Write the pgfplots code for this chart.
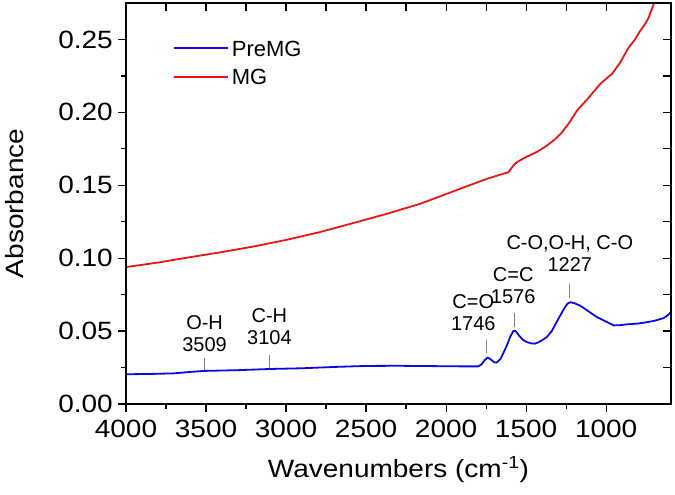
\documentclass[border=0pt]{standalone}
\usepackage{fontspec}
\setmainfont{Liberation Sans}
\newfontfamily\widefont[FakeStretch=1.12]{Liberation Sans}
\usepackage{pgfplots}
\pgfplotsset{compat=1.18}
\pgfplotstableread{
w a
4000 0.0204
3850 0.0206
3700 0.0210
3600 0.0220
3509 0.0227
3300 0.0232
3104 0.0240
2900 0.0245
2700 0.0254
2500 0.0261
2300 0.0262
2100 0.0260
1900 0.0258
1800 0.0258
1780 0.0270
1760 0.0300
1740 0.0318
1720 0.0305
1700 0.0286
1683 0.0284
1660 0.0310
1640 0.0355
1621 0.0400
1600 0.0460
1580 0.0500
1565 0.0500
1545 0.0470
1520 0.0440
1496 0.0425
1470 0.0416
1444 0.0414
1420 0.0425
1390 0.0445
1371 0.0459
1340 0.0500
1298 0.0585
1260 0.0660
1240 0.0690
1225 0.0698
1200 0.0692
1163 0.0675
1110 0.0635
1058 0.0596
1000 0.0565
954 0.0539
920 0.0540
871 0.0546
800 0.0552
746 0.0561
700 0.0570
642 0.0589
620 0.0605
595 0.0632
}\premg
\pgfplotstableread{
w a
4000 0.0939
3800 0.0970
3621 0.1003
3400 0.1042
3204 0.1080
3000 0.1125
2788 0.1179
2600 0.1235
2371 0.1304
2162 0.1373
1954 0.1459
1746 0.1544
1640 0.1580
1611 0.1589
1590 0.1620
1570 0.1648
1540 0.1670
1496 0.1696
1430 0.1730
1371 0.1772
1320 0.1815
1277 0.1862
1230 0.1930
1183 0.2011
1110 0.2100
1038 0.2194
990 0.2240
965 0.2262
940 0.2300
913 0.2341
860 0.2444
820 0.2500
788 0.2558
760 0.2600
735 0.2649
704 0.2740
695 0.2780
}\mg
\begin{document}
\begin{tikzpicture}
\pgfplotsset{
  common/.style={
    at={(0,0)}, anchor=south west,
    scale only axis, width=545pt, height=401pt,
    x dir=reverse, xmin=595, xmax=4000, ymin=0, ymax=0.275,
    xtick={1000,1500,2000,2500,3000,3500,4000},
    ytick={0,0.05,0.1,0.15,0.2,0.25},
    minor x tick num=1, minor y tick num=1,
    axis line style={line width=1.4pt, black},
    every tick/.style={black, line width=1.2pt},
  }
}
\begin{axis}[common,
  xtick pos=bottom, ytick pos=left, tick align=outside,
  major tick length=8pt, minor tick length=5pt,
  /pgf/number format/assume math mode=true,
  tick label style={font=\widefont\fontsize{25}{30}\selectfont},
  x tick label style={inner sep=8pt, /pgf/number format/1000 sep={}},
  y tick label style={inner sep=5pt, /pgf/number format/fixed, /pgf/number format/fixed zerofill, /pgf/number format/precision=2},
  xlabel={Wavenumbers (cm\textsuperscript{-1})},
  ylabel={Absorbance},
  label style={font=\widefont\fontsize{25}{30}\selectfont},
  xlabel style={at={(axis description cs:0.5,-0.1646)}, anchor=center},
  ylabel style={at={(axis description cs:-0.2046,0.5)}, anchor=center},
  legend style={at={(0.086,0.915)}, anchor=north west, draw=none, fill=none,
    inner sep=0pt, row sep=6.5pt, font=\fontsize{22}{26}\selectfont,
    nodes={inner sep=3pt, text height=16pt, text depth=0pt}},
  legend cell align=left,
  legend image code/.code={\draw[#1] (0pt,0pt) -- (54pt,0pt);},
]
\addplot[color={rgb,255:red,10;green,10;blue,230}, line width=1.8pt] table[x=w,y=a] {\premg};
\addlegendentry{PreMG}
\addplot[color={rgb,255:red,235;green,20;blue,20}, line width=1.8pt] table[x=w,y=a] {\mg};
\addlegendentry{MG}
\begin{scope}[every node/.style={align=center, inner sep=0pt, anchor=south, font=\fontsize{20}{22}\selectfont}]
\draw[gray, line width=0.9pt] (axis cs:3509,0.0233) -- (axis cs:3509,0.0315);
\node at (axis cs:3509,0.0356) {O-H\\3509};
\draw[gray, line width=0.9pt] (axis cs:3104,0.0246) -- (axis cs:3104,0.0335);
\node at (axis cs:3104,0.0404) {C-H\\3104};
\draw[gray, line width=0.9pt] (axis cs:1746,0.0351) -- (axis cs:1746,0.0438);
\node at (axis cs:1830,0.0501) {C=O\\1746};
\draw[gray, line width=0.9pt] (axis cs:1576,0.0527) -- (axis cs:1576,0.0622);
\node at (axis cs:1581,0.0684) {C=C\\1576};
\draw[gray, line width=0.9pt] (axis cs:1227,0.0730) -- (axis cs:1227,0.0820);
\node at (axis cs:1227,0.0905) {C-O,O-H, C-O\\1227};
\end{scope}
\end{axis}
\begin{axis}[common,
  xtick pos=upper, ytick pos=right, tick align=inside,
  major tick length=8pt, minor tick length=8pt,
  xticklabels={}, yticklabels={},
]
\end{axis}
\pgfresetboundingbox
\path (-126pt,-91pt) rectangle (549pt,404pt);
\end{tikzpicture}
\end{document}
